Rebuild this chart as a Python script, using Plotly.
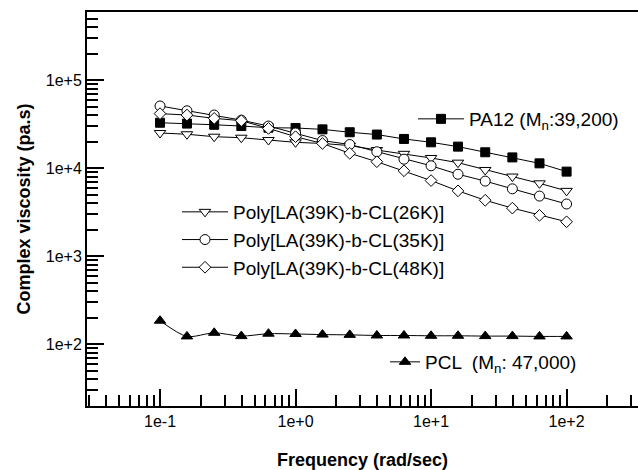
import plotly.graph_objects as go

# ---------------- data ----------------
freq = [0.1, 0.158, 0.251, 0.398, 0.631, 1.0, 1.58, 2.51, 3.98, 6.31,
        10.0, 15.8, 25.1, 39.8, 63.1, 100.0]

pa12 = [32700, 32000, 31000, 30000, 28700, 28500, 27500, 25500, 24000, 21400,
        19600, 17500, 15100, 13200, 11300, 9100]
cl26 = [25000, 24200, 22700, 22100, 20800, 19600, 19000, 18000, 16000, 14500,
        13000, 11500, 9500, 8000, 6700, 5500]
cl35 = [50700, 44700, 40000, 35000, 30000, 25000, 20500, 18500, 15300, 12600,
        10600, 8500, 7100, 5800, 4800, 3900]
cl48 = [41500, 40000, 36700, 34500, 28200, 22700, 19000, 14700, 11800, 9300,
        7200, 5500, 4300, 3500, 2900, 2450]
pcl = [184, 122, 134, 123, 131, 130, 128, 127, 125, 125,
       124, 124, 123, 123, 122, 122]

names = {
    "pa12": "PA12 (M<sub>n</sub>:39,200)",
    "cl26": "Poly[LA(39K)-b-CL(26K)]",
    "cl35": "Poly[LA(39K)-b-CL(35K)]",
    "cl48": "Poly[LA(39K)-b-CL(48K)]",
    "pcl": "PCL  (M<sub>n</sub>: 47,000)",
}

x_tick_vals = [0.1, 1, 10, 100]
x_tick_text = ["1e-1", "1e+0", "1e+1", "1e+2"]
y_tick_vals = [1e2, 1e3, 1e4, 1e5]
y_tick_text = ["1e+2", "1e+3", "1e+4", "1e+5"]

FONT = "Liberation Sans, Arial, sans-serif"

# ---------------- geometry ----------------
W, H = 638, 470
ML, MR, MT, MB = 87, 0, 12, 64
PW, PH = W - ML - MR, H - MT - MB


def px(xp):
    return (xp - ML) / PW


def py(yp):
    return (H - MB - yp) / PH


fig = go.Figure()

line = dict(color="black", width=1)

fig.add_trace(go.Scatter(
    x=freq, y=pa12, mode="lines+markers", name=names["pa12"], legend="legend",
    line=line, marker=dict(symbol="square", size=9, color="black",
                           line=dict(color="black", width=1))))
fig.add_trace(go.Scatter(
    x=freq, y=cl26, mode="lines+markers", name=names["cl26"], legend="legend2",
    line=line, marker=dict(symbol="triangle-down", size=10, color="white",
                           line=dict(color="black", width=1))))
fig.add_trace(go.Scatter(
    x=freq, y=cl35, mode="lines+markers", name=names["cl35"], legend="legend2",
    line=line, marker=dict(symbol="circle", size=10, color="white",
                           line=dict(color="black", width=1))))
fig.add_trace(go.Scatter(
    x=freq, y=cl48, mode="lines+markers", name=names["cl48"], legend="legend2",
    line=line, marker=dict(symbol="diamond", size=9, color="white",
                           line=dict(color="black", width=1))))
fig.add_trace(go.Scatter(
    x=freq, y=pcl, mode="lines+markers", name=names["pcl"], legend="legend3",
    line=dict(color="black", width=1, shape="spline", smoothing=0.8),
    marker=dict(symbol="triangle-up", size=10, color="black",
                line=dict(color="black", width=1))))


# minor tick positions
def minor_ticks(d0, d1):
    out = []
    for d in range(d0, d1 + 1):
        for m in range(2, 10):
            out.append(m * 10.0 ** d)
    return out


axis_common = dict(
    type="log", showgrid=False, zeroline=False,
    showline=True, linecolor="black", linewidth=2,
    ticks="inside", ticklen=17, tickwidth=1.5, tickcolor="black",
    tickmode="array",
    tickfont=dict(family=FONT, size=16, color="black"),
)

fig.update_xaxes(
    **axis_common, mirror=True,
    range=[-1.539, 2.527],
    tickvals=x_tick_vals, ticktext=x_tick_text,
    minor=dict(ticks="inside", ticklen=11, tickwidth=1.5, tickcolor="black",
               tickmode="array", tickvals=minor_ticks(-2, 2), showgrid=False),
    title=dict(text="<b>Frequency (rad/sec)</b>",
               font=dict(family=FONT, size=18, color="black"), standoff=24),
)
fig.update_yaxes(
    **axis_common, mirror=False,
    range=[1.2955, 5.773],
    tickvals=y_tick_vals, ticktext=y_tick_text,
    minor=dict(ticks="inside", ticklen=11, tickwidth=1.5, tickcolor="black",
               tickmode="array", tickvals=minor_ticks(1, 5), showgrid=False),
    title=dict(text="<b>Complex viscosity (pa.s)</b>",
               font=dict(family=FONT, size=18, color="black"), standoff=10),
)

leg_common = dict(bgcolor="rgba(0,0,0,0)", borderwidth=0,
                  font=dict(family=FONT, size=19, color="black"),
                  xanchor="left", yanchor="middle", tracegroupgap=0)

fig.update_layout(
    width=W, height=H,
    margin=dict(l=ML, r=MR, t=MT, b=MB, pad=0),
    paper_bgcolor="white", plot_bgcolor="white",
    font=dict(family=FONT, color="black"),
    showlegend=True,
    legend=dict(**leg_common, itemwidth=46, x=px(413), y=py(119)),
    legend2=dict(**leg_common, itemwidth=46, x=px(177), y=py(240)),
    legend3=dict(**leg_common, itemwidth=30, x=px(385), y=py(362)),
)

fig.write_html("out.html")
